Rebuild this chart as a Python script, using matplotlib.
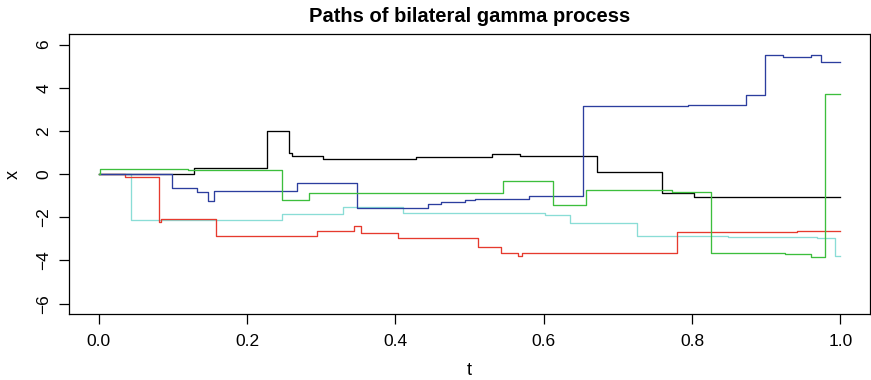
import matplotlib
matplotlib.use("Agg")
import matplotlib.pyplot as plt

plt.rcParams['font.family'] = ['Liberation Sans', 'DejaVu Sans']

# Jump times and levels of five simulated bilateral gamma paths (piecewise constant)
t_black = [0, 0.129, 0.175, 0.227, 0.256, 0.2605, 0.303, 0.428, 0.530, 0.568, 0.672, 0.760, 0.802, 1.0]
x_black = [0, 0.30, 0.28, 2.02, 1.00, 0.82, 0.71, 0.80, 0.94, 0.82, 0.12, -0.88, -1.08, -1.08]

t_red = [0, 0.035, 0.082, 0.0835, 0.158, 0.294, 0.344, 0.354, 0.404, 0.512, 0.542, 0.565, 0.571, 0.780, 0.942, 1.0]
x_red = [0, -0.11, -2.23, -2.06, -2.88, -2.65, -2.40, -2.72, -2.94, -3.38, -3.65, -3.78, -3.65, -2.66, -2.63, -2.63]

t_green = [0, 0.002, 0.121, 0.247, 0.284, 0.545, 0.612, 0.657, 0.773, 0.825, 0.925, 0.961, 0.979, 1.0]
x_green = [0, 0.22, 0.17, -1.22, -0.86, -0.34, -1.41, -0.72, -0.83, -3.66, -3.70, -3.83, 3.71, 3.71]

t_blue = [0, 0.099, 0.133, 0.1475, 0.156, 0.268, 0.348, 0.444, 0.461, 0.494, 0.508, 0.580, 0.653,
          0.795, 0.873, 0.899, 0.922, 0.961, 0.974, 1.0]
x_blue = [0, -0.66, -0.82, -1.25, -0.80, -0.42, -1.57, -1.37, -1.31, -1.19, -1.13, -1.02, 3.18,
          3.22, 3.66, 5.54, 5.45, 5.54, 5.18, 5.18]

t_cyan = [0, 0.0437, 0.247, 0.329, 0.410, 0.602, 0.636, 0.726, 0.849, 0.969, 0.993, 1.0]
x_cyan = [0, -2.12, -1.85, -1.52, -1.82, -1.89, -2.26, -2.88, -2.91, -2.97, -3.77, -3.77]

x_ticks = [0.0, 0.2, 0.4, 0.6, 0.8, 1.0]
y_ticks = [-6, -4, -2, 0, 2, 4, 6]

fig = plt.figure(figsize=(8.71, 3.80), dpi=100)
ax = fig.add_axes([0.0792, 0.1737, 0.9197, 0.7360])

paths = [
    (t_cyan, x_cyan, "#8ADDD6"),
    (t_black, x_black, "#000000"),
    (t_red, x_red, "#E63A2E"),
    (t_blue, x_blue, "#2C3E9E"),
    (t_green, x_green, "#3DBE3D"),
]
for t, x, c in paths:
    ax.plot(t, x, drawstyle="steps-post", color=c, lw=0.95)

ax.set_xlim(-0.04, 1.04)
ax.set_ylim(-6.48, 6.48)
ax.set_xticks(x_ticks)
ax.set_xticklabels([f"{v:.1f}" for v in x_ticks])
ax.set_yticks(y_ticks)
ax.set_yticklabels([f"{v}".replace("-", "\u2212") for v in y_ticks], rotation=90, va="center")

ax.tick_params(axis="both", direction="out", length=7.5, width=0.9, labelsize=12.5)
ax.tick_params(axis="x", pad=7)
ax.tick_params(axis="y", pad=5)
for s in ax.spines.values():
    s.set_linewidth(0.9)

ax.set_title("Paths of bilateral gamma process", fontsize=14.5, fontweight="bold", pad=9)
ax.set_xlabel("t", fontsize=13, labelpad=9)
ax.set_ylabel("x", fontsize=13, labelpad=11)

fig.savefig("out.png", dpi=100)
